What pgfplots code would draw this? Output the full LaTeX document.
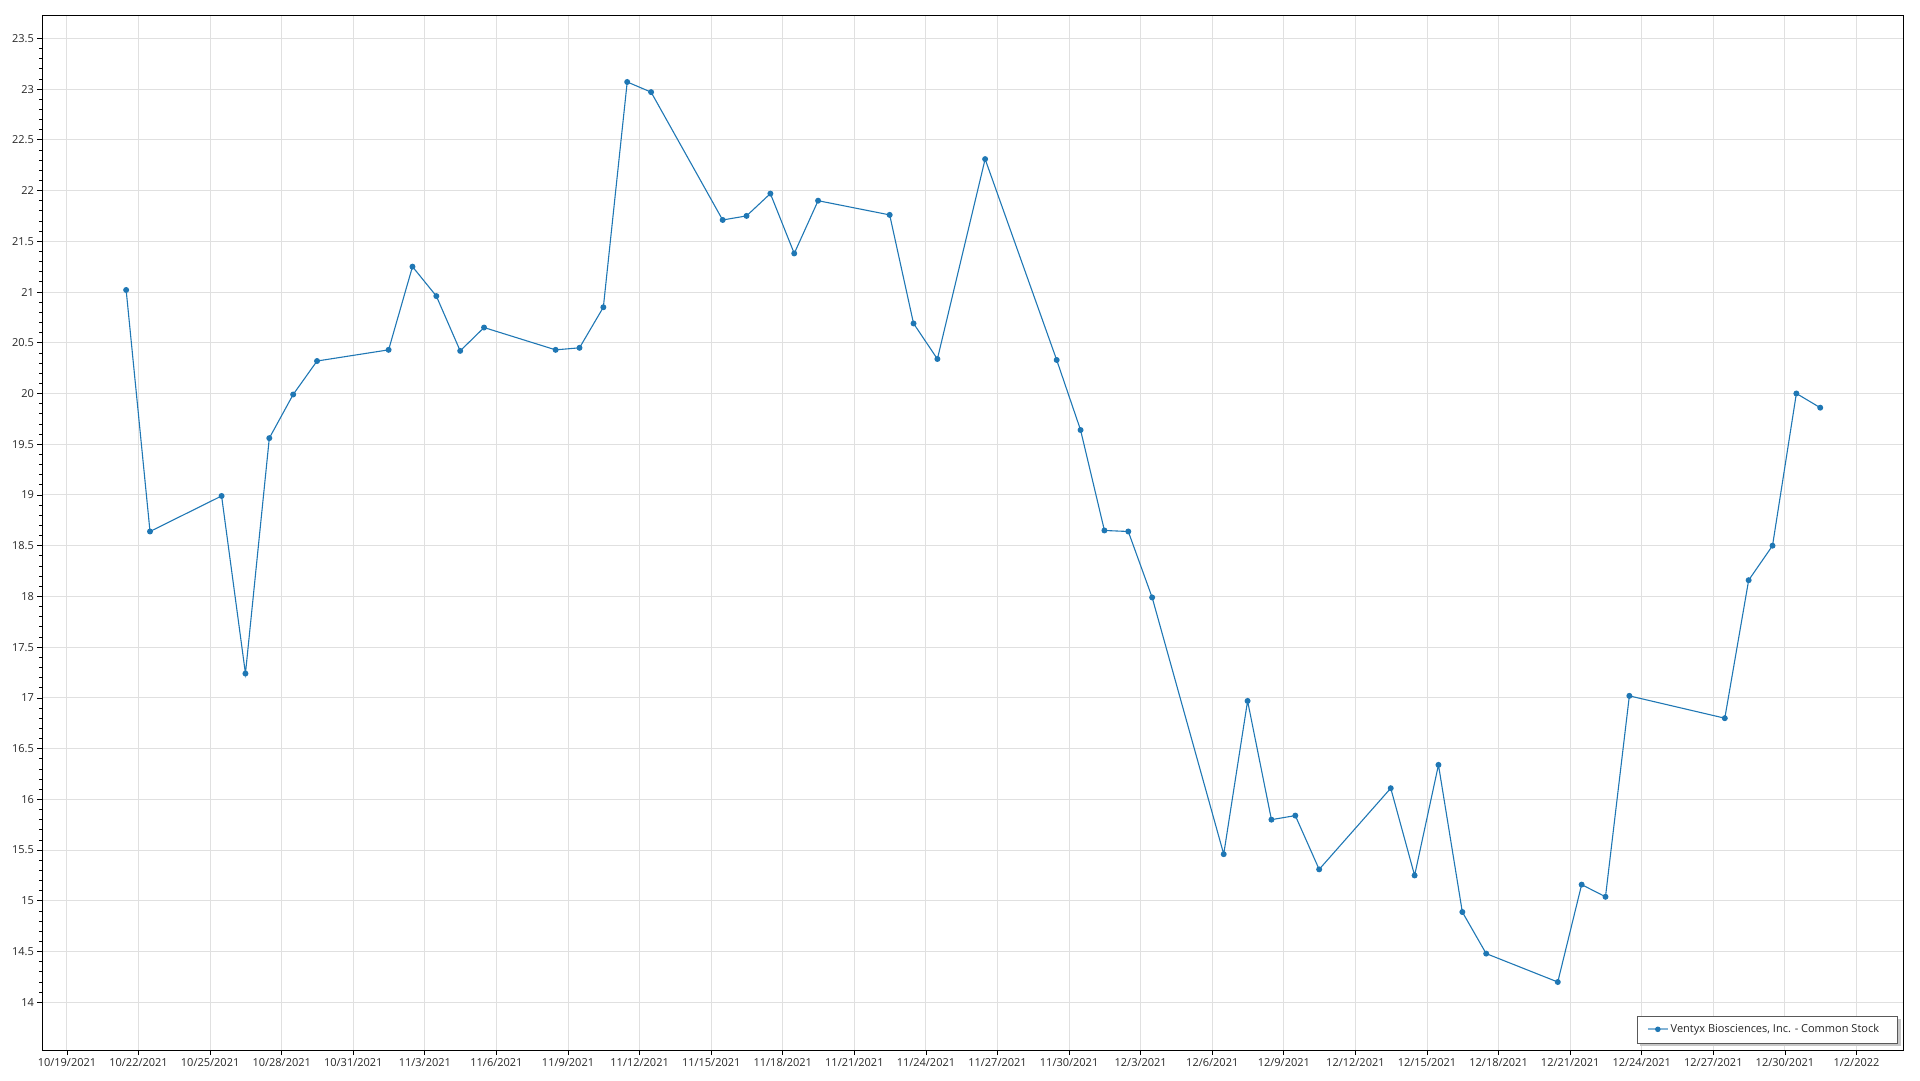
\documentclass[border=0pt]{standalone}
\usepackage{pgfplots}
\usepackage{pgfplotstable}
\pgfplotsset{compat=1.18}
\usepackage{fontspec}
\setmainfont{Open Sans}
\definecolor{series}{RGB}{31,119,180}
\definecolor{gridc}{RGB}{224,224,224}

\pgfplotstableread{
d y
2.48 21.02
3.48 18.64
6.48 18.99
7.48 17.24
8.48 19.56
9.48 19.99
10.48 20.32
13.48 20.43
14.48 21.25
15.48 20.96
16.48 20.42
17.48 20.65
20.48 20.43
21.48 20.45
22.48 20.85
23.48 23.07
24.48 22.97
27.48 21.71
28.48 21.75
29.48 21.97
30.48 21.38
31.48 21.90
34.48 21.76
35.48 20.69
36.48 20.34
38.48 22.31
41.48 20.33
42.48 19.64
43.48 18.65
44.48 18.64
45.48 17.99
48.48 15.46
49.48 16.97
50.48 15.80
51.48 15.84
52.48 15.31
55.48 16.11
56.48 15.25
57.48 16.34
58.48 14.89
59.48 14.48
62.48 14.20
63.48 15.16
64.48 15.04
65.48 17.02
69.48 16.80
70.48 18.16
71.48 18.50
72.48 20.00
73.48 19.86
}\stock

\begin{document}
\begin{tikzpicture}
\begin{axis}[
  scale only axis, width=1861.6pt, height=1035pt,
  xmin=-1.03, xmax=76.99, ymin=13.53, ymax=23.73,
  xtick={0,3,6,9,12,15,18,21,24,27,30,33,36,39,42,45,48,51,54,57,60,63,66,69,72,75},
  xticklabels={10/19/2021,10/22/2021,10/25/2021,10/28/2021,10/31/2021,11/3/2021,11/6/2021,11/9/2021,11/12/2021,11/15/2021,11/18/2021,11/21/2021,11/24/2021,11/27/2021,11/30/2021,12/3/2021,12/6/2021,12/9/2021,12/12/2021,12/15/2021,12/18/2021,12/21/2021,12/24/2021,12/27/2021,12/30/2021,1/2/2022},
  ytick={14,14.5,15,15.5,16,16.5,17,17.5,18,18.5,19,19.5,20,20.5,21,21.5,22,22.5,23,23.5},
  minor y tick num=4,
  tick align=outside, xtick pos=bottom, ytick pos=left,
  major tick length=5pt, minor tick length=3pt,
  grid=major, major grid style={gridc, line width=1pt},
  axis line style={black, line width=1pt},
  tick style={black, line width=0.8pt},
  every tick label/.append style={font=\fontsize{11}{13}\selectfont, text=black!85},
  /pgf/number format/assume math mode=true,
  yticklabel style={/pgf/number format/fixed, /pgf/number format/precision=1},
  legend style={at={(0.8618,0.0200)}, anchor=west,
    draw=none, fill=none, inner sep=0pt,
    font=\fontsize{11}{13}\selectfont, text=black!85},
  legend cell align=left,
  legend image code/.code={\draw[series!55, line width=1.8pt] (0pt,0pt) -- (20pt,0pt); \fill[series] (10pt,0pt) circle (2.2pt);},
]
\fill[black!22] (rel axis cs:0.85822,0.00386) rectangle (rel axis cs:0.99839,0.02995);
\filldraw[fill=white, draw=black!65, line width=1pt] (rel axis cs:0.85661,0.00676) rectangle (rel axis cs:0.99678,0.03285);
\addplot[series, line width=1.1pt, mark=*, mark size=2.4pt, mark options={fill=series, draw=series}] table[x=d, y=y] {\stock};
\addlegendentry{Ventyx Biosciences, Inc. - Common Stock}
\end{axis}
\pgfresetboundingbox
\path[use as bounding box] (-42.4pt,-30pt) rectangle (1877.6pt,1050pt);
\end{tikzpicture}
\end{document}
